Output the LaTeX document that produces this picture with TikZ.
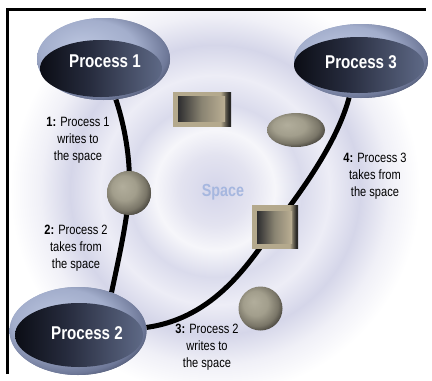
\documentclass[tikz,border=0pt]{standalone}
\usepackage{fontspec}
\newfontfamily\condf{Liberation Sans}[FakeStretch=0.82]
\usetikzlibrary{shapes.geometric,calc}
\definecolor{lavA}{HTML}{D4D5EA}
\definecolor{lavB}{HTML}{E3E3F0}
\definecolor{lavC}{HTML}{F6F6FA}
\definecolor{lavD}{HTML}{DADBEC}
\definecolor{lavE}{HTML}{EDEDF6}
\definecolor{lavF}{HTML}{D5D6E9}
\definecolor{lavG}{HTML}{F0F0F7}
\definecolor{rimA}{HTML}{BAC4DE}
\definecolor{rimB}{HTML}{A3AECC}
\definecolor{rimC}{HTML}{6E7898}
\definecolor{rimD}{HTML}{262B3E}
\definecolor{coreA}{HTML}{0B0D15}
\definecolor{coreB}{HTML}{262B3D}
\definecolor{coreC}{HTML}{5E6986}
\definecolor{sphA}{HTML}{B2AE9C}
\definecolor{sphB}{HTML}{A29E8C}
\definecolor{sphC}{HTML}{7A7668}
\definecolor{sphD}{HTML}{35332E}
\definecolor{tanc}{HTML}{B4A98D}
\definecolor{tand}{HTML}{2A2927}
\definecolor{binA}{HTML}{2E2E30}
\definecolor{binB}{HTML}{8A8472}
\definecolor{binC}{HTML}{BBAF94}
\definecolor{spacec}{HTML}{A6B7DF}
\pgfdeclareradialshading{swirl}{\pgfpoint{0bp}{0bp}}{color(0bp)=(lavA); color(4.3bp)=(lavB); color(7.3bp)=(lavC); color(10.6bp)=(lavD); color(14bp)=(lavE); color(17.7bp)=(lavF); color(21.3bp)=(lavG); color(25bp)=(white); color(50bp)=(white)}
\pgfdeclareradialshading{rim}{\pgfpoint{-9bp}{9bp}}{color(0bp)=(rimA); color(18bp)=(rimB); color(28bp)=(rimC); color(35bp)=(rimD); color(50bp)=(rimD)}
\pgfdeclarehorizontalshading{core}{100bp}{color(0bp)=(coreA); color(25bp)=(coreA); color(45bp)=(coreB); color(75bp)=(coreC); color(100bp)=(coreC)}
\pgfdeclareradialshading{sph}{\pgfpoint{-8bp}{8bp}}{color(0bp)=(sphA); color(14bp)=(sphB); color(24bp)=(sphC); color(32bp)=(sphD); color(50bp)=(sphD)}
\pgfdeclarehorizontalshading{boxout}{100bp}{color(0bp)=(tanc); color(25bp)=(tanc); color(66bp)=(tanc); color(73bp)=(tand); color(100bp)=(tand)}
\pgfdeclarehorizontalshading{boxin}{100bp}{color(0bp)=(binA); color(25bp)=(binA); color(50bp)=(binB); color(75bp)=(binC); color(100bp)=(binC)}
\tikzset{
  rimstyle/.style={ellipse, inner sep=0pt, shade, shading=rim, draw=none},
  corestyle/.style={ellipse, inner sep=0pt, shade, shading=core, draw=none},
  ptext/.style={text=white, font=\condf\bfseries\fontsize{18.5}{20}\selectfont, inner sep=0pt},
  lab/.style={align=center, font=\condf\fontsize{13.5}{17}\selectfont, inner sep=0pt},
  ballstyle/.style={circle, inner sep=0pt, shade, shading=sph, draw=none},
  discstyle/.style={ellipse, inner sep=0pt, shade, shading=sph, draw=none},
  boxouter/.style={rectangle, inner sep=0pt, shade, shading=boxout, draw=none},
  boxinner/.style={rectangle, inner sep=0pt, shade, shading=boxin, draw=none},
  conn/.style={line width=5pt, black},
  frame/.style={line width=3pt, black}
}
\begin{document}
\begin{tikzpicture}[x=1pt,y=-1pt]
\useasboundingbox (0,0) rectangle (432,381);
% background swirl
\begin{scope}
  \clip (9,11) rectangle (432,381);
  \shade[shading=swirl] (215,190) circle (205);
\end{scope}
\draw[frame] (7.5,374) -- (7.5,9.5) -- (426,9.5);

% process ellipses (rims) -- positions first for anchors
\node[rimstyle, minimum width=133, minimum height=82] (p1) at (103.5,59) {};
\node[rimstyle, minimum width=137, minimum height=88] (p2) at (78,331) {};
\node[rimstyle, minimum width=134, minimum height=74] (p3) at (361,61) {};

% objects
\node[ballstyle, minimum size=44] (s1) at (129,193) {};
\node[ballstyle, minimum size=44] (s2) at (260.5,308.5) {};
\node[discstyle, minimum width=58, minimum height=34] (d1) at (296,130) {};
\node[boxouter, minimum width=58, minimum height=34] (b1) at (202,109) {};
\node[boxinner, minimum width=47, minimum height=25] (b1i) at ($(b1.center)+(-0.5,-0.5)$) {};

% connectors
\draw[conn] (p1.-73) .. controls (126,130) and (131,165) .. (s1.center)
  .. controls (127,222) and (118,262) .. (p2.49);
\draw[conn] (p2.3) .. controls (215,318) and (250,262) .. (275,226.5)
  .. controls (290,205) and (335,150) .. (p3.-108);

% redraw objects on lines
\node[ballstyle, minimum size=44] (s1b) at (s1) {};
\node[boxouter, minimum width=46, minimum height=43] (b2) at (275,226.5) {};
\node[boxinner, minimum width=35, minimum height=32] (b2i) at ($(b2.center)+(-0.5,0.5)$) {};

% process ellipses on top
\node[rimstyle, minimum width=133, minimum height=82] (p1r) at (p1) {};
\node[corestyle, minimum width=122, minimum height=57] (p1c) at ($(p1.center)+(-2.5,9.5)$) {};
\node[ptext] (p1t) at ($(p1.center)+(1.5,2)$) {Process 1};

\node[rimstyle, minimum width=137, minimum height=88] (p2r) at (p2) {};
\node[corestyle, minimum width=128, minimum height=64] (p2c) at ($(p2.center)+(1,4)$) {};
\node[ptext] (p2t) at ($(p2.center)+(9,2)$) {Process 2};

\node[rimstyle, minimum width=134, minimum height=74] (p3r) at (p3) {};
\node[corestyle, minimum width=130, minimum height=56] (p3c) at ($(p3.center)+(-2,4)$) {};
\node[ptext] (p3t) at ($(p3.center)+(0,1)$) {Process 3};

% labels
\node[lab] (l1) at (78,140) {\textbf{1:} Process 1\\writes to\\the space};
\node[lab] (l2) at (76,248) {\textbf{2:} Process 2\\takes from\\the space};
\node[lab] (l3) at (207,347) {\textbf{3:} Process 2\\writes to\\the space};
\node[lab] (l4) at (375,176) {\textbf{4:} Process 3\\takes from\\the space};
\node[text=spacec, font=\condf\bfseries\fontsize{17.5}{20}\selectfont, inner sep=0pt] (sp) at (223,192) {Space};
\end{tikzpicture}
\end{document}
